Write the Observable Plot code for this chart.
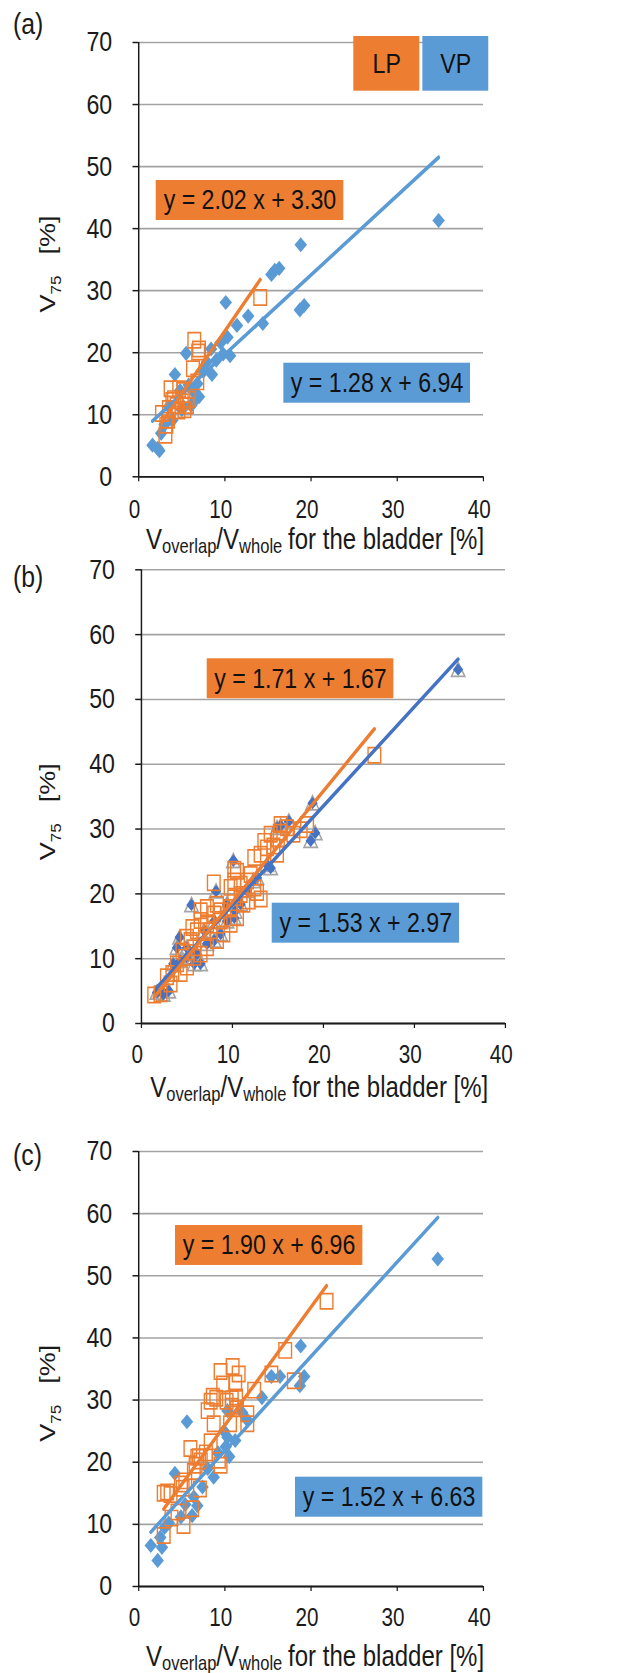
<!DOCTYPE html>
<html><head><meta charset="utf-8">
<script src="https://cdn.jsdelivr.net/npm/d3@7"></script>
<script src="https://cdn.jsdelivr.net/npm/@observablehq/plot@0.6"></script>
<style>
body{margin:0;background:#fff;}
#chart svg{display:block;}
</style></head><body><div id="chart"></div>
<script>
// ---------------- DATA ----------------
const xTicks = [0, 10, 20, 30, 40];
const yTicks = [0, 10, 20, 30, 40, 50, 60, 70];
const seriesNames = ["LP", "VP"];

// panel (a)
const vpA = [[1.6,5.1],[2.2,4.6],[2.4,4.2],[2.6,7.0],[3.0,8.4],[3.5,11.3],[3.9,9.1],[4.2,16.5],[4.8,13.9],[5.0,10.8],[5.2,11.3],[5.5,19.9],[5.8,14.8],[6.1,11.5],[6.3,13.8],[6.5,12.3],[6.8,15.0],[7.0,12.9],[7.5,17.0],[7.9,18.5],[8.4,20.6],[8.5,16.5],[9.0,18.8],[9.5,21.6],[9.8,19.8],[10.1,28.1],[10.3,22.5],[10.6,19.5],[11.4,24.4],[12.7,25.9],[14.4,24.7],[15.4,32.6],[15.8,33.3],[16.3,33.6],[18.7,26.9],[18.8,37.4],[19.2,27.6],[34.8,41.3]];
const lpA = [[2.7,10.2],[3.1,6.7],[3.2,8.3],[3.4,9.1],[3.5,11.0],[3.7,14.2],[3.9,12.3],[4.1,12.6],[4.4,11.5],[4.6,10.6],[4.7,14.2],[5.0,12.1],[5.2,13.9],[5.3,10.8],[5.6,11.5],[5.8,12.5],[6.3,17.4],[6.45,22.0],[6.8,15.3],[6.9,20.1],[7.0,20.6],[14.1,28.9]];
const fitLpA = [2.02, 3.30];
const fitVpA = [1.28, 6.94];

// panel (b)
const vpB = [[1.7,4.8],[2.4,4.5],[3.0,5.0],[3.5,9.2],[3.9,11.7],[4.2,13.3],[4.3,9.7],[5.0,10.2],[5.0,11.7],[5.5,18.3],[5.8,9.2],[6.1,10.7],[6.5,9.2],[6.9,14.3],[7.2,12.3],[8.0,12.8],[8.0,15.8],[8.2,20.4],[8.7,13.8],[9.4,15.8],[9.4,18.4],[10.1,25.1],[10.2,16.3],[10.3,17.3],[10.9,18.4],[11.6,20.5],[12.3,22.0],[12.7,22.5],[13.8,24.5],[14.2,24.0],[14.9,30.2],[15.3,30.5],[16.2,31.2],[18.6,28.2],[18.8,34.0],[19.1,29.4],[34.8,54.6]];
const lpB = [[1.4,4.4],[2.1,4.6],[2.8,7.2],[3.2,6.1],[3.4,7.7],[3.9,9.2],[4.3,7.7],[4.5,11.2],[4.8,10.2],[5.0,8.7],[5.0,13.3],[5.4,12.8],[5.6,14.8],[5.8,10.2],[5.8,11.7],[6.1,14.3],[6.5,10.7],[6.5,15.9],[6.5,17.4],[7.2,11.7],[7.2,15.3],[7.2,17.9],[7.6,14.3],[7.95,21.7],[8.0,16.9],[8.3,12.8],[8.3,18.4],[8.7,15.8],[8.7,17.4],[9.0,13.8],[9.8,15.3],[9.8,17.9],[9.8,21.0],[10.2,19.4],[10.2,22.0],[10.2,23.8],[10.5,16.3],[10.5,23.5],[10.9,19.9],[10.9,21.5],[11.2,18.4],[11.6,22.0],[11.8,18.9],[12.0,23.0],[12.4,20.9],[12.4,25.6],[12.7,20.2],[13.1,19.2],[13.1,26.1],[13.5,28.1],[13.8,27.1],[14.2,29.2],[14.5,27.4],[14.9,26.1],[15.0,28.5],[15.2,29.5],[15.3,30.7],[16.0,30.2],[16.7,29.2],[17.5,29.9],[18.2,30.7],[25.6,41.4]];
const fitLpB = [1.71, 1.67];
const fitVpB = [1.53, 2.97];

// panel (c)
const vpC = [[1.4,6.6],[2.2,4.2],[2.5,7.9],[2.7,6.3],[3.0,9.5],[3.5,10.2],[4.2,18.2],[4.9,11.2],[5.4,13.2],[5.6,26.5],[6.2,11.4],[6.4,14.4],[6.8,13.0],[7.4,16.0],[8.0,19.0],[8.7,17.6],[9.2,21.5],[9.9,25.0],[10.1,22.5],[10.3,24.0],[10.3,28.3],[10.5,20.9],[11.2,23.5],[12.0,28.0],[12.6,26.8],[14.3,30.4],[15.4,33.8],[16.4,33.8],[18.7,32.3],[18.8,38.7],[19.2,33.8],[34.7,52.7]];
const lpC = [[2.9,8.2],[2.9,15.0],[3.3,15.2],[3.7,14.8],[3.8,11.0],[4.5,12.0],[4.9,16.5],[5.1,15.8],[5.2,9.8],[5.4,17.0],[6.0,22.2],[6.2,12.5],[6.4,18.5],[6.6,19.5],[6.8,20.8],[7.0,20.9],[7.1,15.7],[7.2,20.2],[7.8,21.5],[8.0,28.3],[8.35,23.3],[8.35,29.8],[8.6,30.6],[8.7,26.2],[9.0,30.3],[9.3,20.3],[9.5,19.5],[9.5,34.6],[9.8,32.6],[10.2,29.8],[10.6,26.2],[10.8,29.0],[10.8,30.2],[10.9,35.4],[11.2,32.7],[11.3,30.5],[11.4,28.6],[11.6,34.2],[12.6,26.2],[12.6,27.8],[13.4,31.6],[15.4,34.2],[17.0,38.0],[18.0,33.1],[21.8,45.9]];
const fitLpC = [1.90, 6.96];
const fitVpC = [1.52, 6.63];

// ---------------- LAYOUT / STYLE ----------------
const W = 760;               // virtual drawing width (figure is horizontally condensed)
const OUT_W = 629;
const ORANGE = "#ED7D31", BLUE = "#5B9BD5", DBLUE = "#4472C4", GRAY = "#A5A5A5", INK = "#1a1a1a";
const FONT = "'Liberation Sans', Arial, Helvetica, sans-serif";

const panels = [
  {id:"a", vp:vpA, lp:lpA, fitVp:fitVpA, fitLp:fitLpA, height:555, mt:42, mb:78.7, ml:167.1, mr:176.4,
   vpColor:BLUE, lineColor:BLUE, tri:false, xdy:23.4,
   lpBox:[2.02,23.79,41.31,47.76], vpBox:[16.83,38.49,11.86,18.31],
   legend:[[24.95,32.61,62.15,70.97],[32.96,40.61,62.15,70.97]],
   xlab:{dx:5.4, dy:73}, ylab:{x:66.5, y:264}, tagY:33.7},
  {id:"b", vp:vpB, lp:lpB, fitVp:fitVpB, fitLp:fitLpB, height:550, mt:14.3, mb:82, ml:170.4, mr:149.8,
   vpColor:DBLUE, lineColor:DBLUE, tri:true, xdy:21.7,
   lpBox:[7.22,27.73,50.10,56.27], vpBox:[14.36,34.95,12.39,18.56],
   legend:null,
   xlab:{dx:-4.6, dy:74}, ylab:{x:66.5, y:256.7}, tagY:32},
  {id:"c", vp:vpC, lp:lpC, fitVp:fitVpC, fitLp:fitLpC, height:568, mt:46, mb:87, ml:167.1, mr:176.4,
   vpColor:BLUE, lineColor:BLUE, tri:false, xdy:22,
   lpBox:[4.26,26.0,51.66,58.09], vpBox:[18.18,39.92,11.15,17.59],
   legend:null,
   xlab:{dx:5.4, dy:80}, ylab:{x:66.5, y:288.3}, tagY:60.4}
];

const fitLine = (pts, [m, b]) => d3.extent(pts, d => d[0]).map(x => [x, m * x + b]);
const eqText = ([m, b]) => `y = ${m.toFixed(2)} x + ${b.toFixed(2)}`;

function labelsMark(cfg) {
  return (index, scales, values, dim) => {
    const g = d3.create("svg:g").attr("fill", INK).attr("font-family", FONT);
    const cx = (dim.marginLeft + dim.width - dim.marginRight) / 2 + cfg.xlab.dx;
    const by = dim.height - dim.marginBottom + cfg.xlab.dy;
    const t = g.append("text").attr("x", cx).attr("y", by).attr("text-anchor", "middle").attr("font-size", 29);
    t.append("tspan").text("V");
    t.append("tspan").attr("font-size", 20).attr("dy", 4).text("overlap");
    t.append("tspan").attr("dy", -4).text("/V");
    t.append("tspan").attr("font-size", 20).attr("dy", 4).text("whole");
    t.append("tspan").attr("dy", -4).attr("dx", 7).text("for the bladder [%]");
    const yt = g.append("text")
      .attr("transform", `translate(${cfg.ylab.x},${cfg.ylab.y}) rotate(-90)`)
      .attr("text-anchor", "middle").attr("font-size", 27);
    yt.append("tspan").text("V");
    yt.append("tspan").attr("font-size", 17).attr("dy", 7).text("75");
    yt.append("tspan").attr("dy", -7).attr("dx", 21).text("[%]");
    g.append("text").attr("x", 15.7).attr("y", cfg.tagY).attr("text-anchor", "start")
      .attr("font-size", 30).text(`(${cfg.id})`);
    return g.node();
  };
}

function box(b, fill, label) {
  const rec = {x1:b[0], x2:b[1], y1:b[2], y2:b[3], cx:(b[0]+b[1])/2, cy:(b[2]+b[3])/2, label};
  return [
    Plot.rect([rec], {x1:"x1", x2:"x2", y1:"y1", y2:"y2", fill}),
    Plot.text([rec], {x:"cx", y:"cy", text:"label", fontSize:28, fill:"#111", lineAnchor:"middle"})
  ];
}

function makePanel(cfg) {
  const marks = [
    Plot.gridY(yTicks, {stroke:"#a3a3a3", strokeOpacity:1, strokeWidth:1.6}),
    // tick marks (labels drawn separately below)
    Plot.axisY(yTicks, {tickSize:7, tickFormat:() => "", label:null, strokeWidth:1.5}),
    Plot.axisX(xTicks, {tickSize:5, tickFormat:() => "", label:null, strokeWidth:1.5}),
    Plot.text(yTicks, {y:d => d, text:d => String(d), frameAnchor:"left", textAnchor:"end", dx:-32, fontSize:28, fill:INK, lineAnchor:"middle"}),
    Plot.text(xTicks, {x:d => d, text:d => String(d), frameAnchor:"bottom", lineAnchor:"top", dy:cfg.xdy, dx:-5, fontSize:25, fill:INK}),
  ];
  if (cfg.tri) marks.push(Plot.dot(cfg.vp, {x:d=>d[0], y:d=>d[1], symbol:"triangle", r:6, dy:2, stroke:GRAY, strokeWidth:1.8, fill:"none"}));
  marks.push(
    Plot.dot(cfg.vp, {x:d=>d[0], y:d=>d[1], symbol:"diamond2", r:cfg.tri ? 5.6 : 6.8, fill:cfg.vpColor}),
    Plot.dot(cfg.lp, {x:d=>d[0], y:d=>d[1], symbol:"square", r:8.6, stroke:ORANGE, strokeWidth:1.7, fill:"none"}),
    Plot.ruleX([0], {stroke:INK, strokeWidth:1.8}),
    Plot.ruleY([0], {stroke:INK, strokeWidth:1.8}),
    Plot.line(fitLine(cfg.vp, cfg.fitVp), {x:d=>d[0], y:d=>d[1], stroke:cfg.lineColor, strokeWidth:3.8}),
    Plot.line(fitLine(cfg.lp, cfg.fitLp), {x:d=>d[0], y:d=>d[1], stroke:ORANGE, strokeWidth:3.8}),
    ...box(cfg.lpBox, ORANGE, eqText(cfg.fitLp)),
    ...box(cfg.vpBox, BLUE, eqText(cfg.fitVp))
  );
  if (cfg.legend) {
    marks.push(...box(cfg.legend[0], ORANGE, seriesNames[0]), ...box(cfg.legend[1], BLUE, seriesNames[1]));
  }
  marks.push(labelsMark(cfg));

  const svg = Plot.plot({
    width: W, height: cfg.height,
    marginTop: cfg.mt, marginBottom: cfg.mb, marginLeft: cfg.ml, marginRight: cfg.mr,
    x: {domain:[0, 40]}, y: {domain:[0, 70]},
    style: {fontFamily: FONT, color: INK, background: "#fff", overflow: "visible"},
    marks
  });
  svg.setAttribute("width", OUT_W);
  svg.setAttribute("preserveAspectRatio", "none");
  svg.style.width = OUT_W + "px";
  svg.style.height = cfg.height + "px";
  svg.style.maxWidth = "none";
  return svg;
}

const root = document.getElementById("chart");
panels.forEach(p => root.appendChild(makePanel(p)));
</script>
</body></html>
